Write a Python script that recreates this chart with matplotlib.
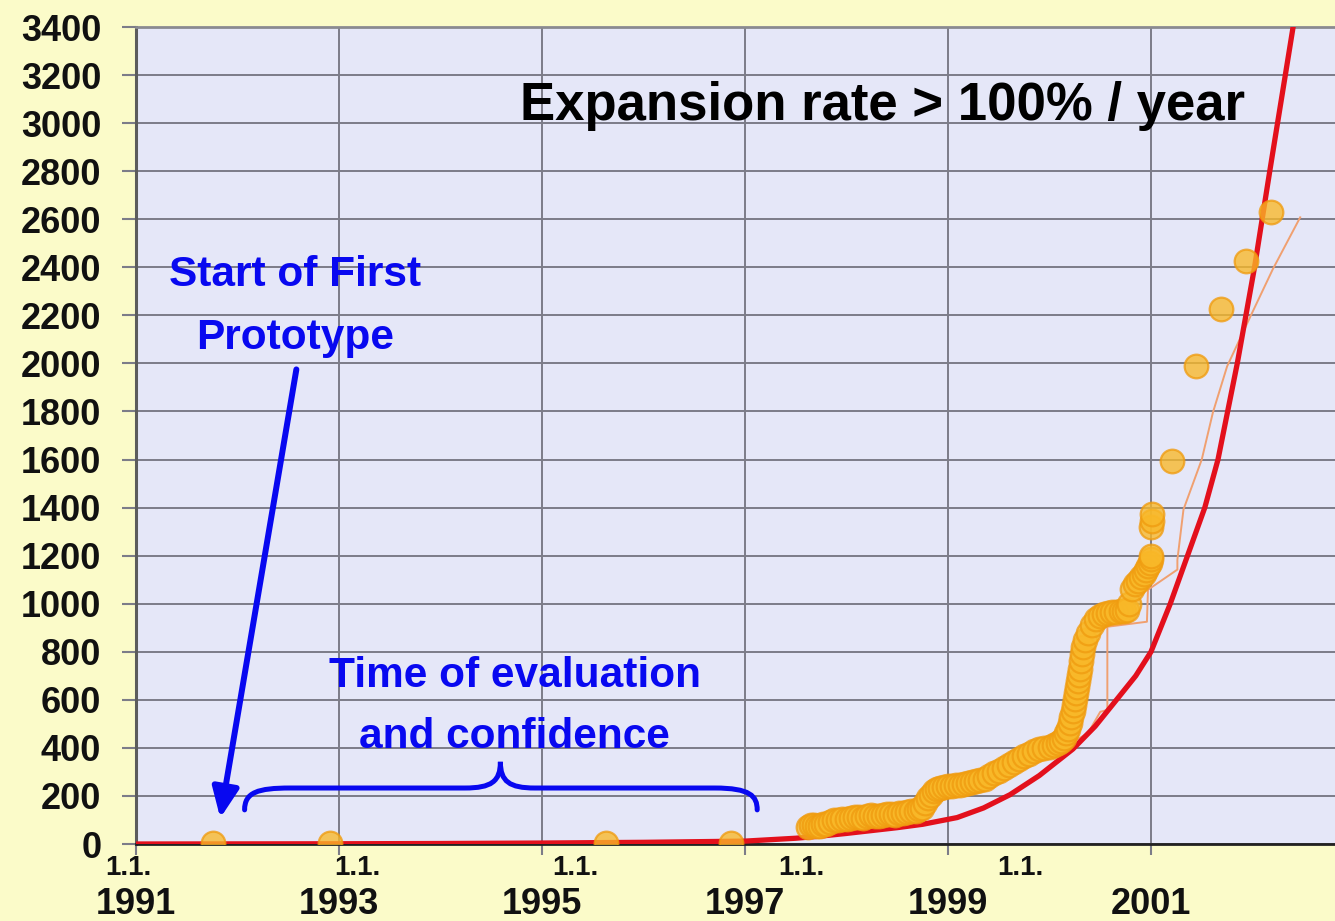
import matplotlib
matplotlib.use("Agg")
import matplotlib.pyplot as plt
from matplotlib.path import Path
from matplotlib.patches import PathPatch

# ---------------- data ----------------
year_ticks = [1991, 1993, 1995, 1997, 1999, 2001]
year_labels = ["1991", "1993", "1995", "1997", "1999", "2001"]
y_ticks = list(range(0, 3401, 200))

# measured points (orange circles)
dot_years = [1991.76, 1992.91, 1995.63, 1996.86,
             1997.62, 1997.65, 1997.68, 1997.71, 1997.74, 1997.77, 1997.80, 1997.84,
             1997.88, 1997.92, 1997.96, 1998.00, 1998.04, 1998.08, 1998.12, 1998.16,
             1998.20, 1998.24, 1998.28, 1998.32, 1998.36, 1998.40, 1998.44, 1998.48,
             1998.52, 1998.56, 1998.60, 1998.64, 1998.68, 1998.71, 1998.74, 1998.77,
             1998.80, 1998.83, 1998.86, 1998.89, 1998.92, 1998.96, 1999.00, 1999.04,
             1999.08, 1999.12, 1999.16, 1999.20, 1999.24, 1999.28, 1999.32, 1999.36,
             1999.40, 1999.45, 1999.50, 1999.55, 1999.60, 1999.65, 1999.70, 1999.75,
             1999.80, 1999.85, 1999.90, 1999.95, 2000.00, 2000.04, 2000.08, 2000.11,
             2000.14, 2000.16, 2000.18, 2000.20, 2000.21, 2000.23, 2000.24, 2000.25,
             2000.26, 2000.27, 2000.28, 2000.29, 2000.30, 2000.31, 2000.32, 2000.33,
             2000.35, 2000.38, 2000.42, 2000.46, 2000.50, 2000.54, 2000.58, 2000.62,
             2000.66, 2000.70, 2000.73, 2000.76, 2000.78, 2000.81, 2000.84, 2000.87,
             2000.90, 2000.93, 2000.95, 2000.97, 2000.99, 2001.00, 2001.00, 2001.00,
             2001.01, 2001.01, 2001.21, 2001.44, 2001.69, 2001.94, 2002.18]
dot_values = [3, 3, 3, 3,
              72, 78, 80, 74, 76, 84, 85, 92,
              100, 98, 105, 102, 108, 112, 112, 110,
              115, 120, 118, 116, 120, 125, 124, 122,
              128, 130, 132, 136, 138, 145, 150, 170,
              190, 205, 222, 230, 235, 238, 240, 243,
              245, 247, 250, 255, 258, 262, 265, 272,
              285, 295, 305, 318, 330, 342, 355, 365,
              375, 385, 395, 400, 405, 412, 420, 430,
              440, 460, 480, 505, 530, 555, 580, 605,
              630, 655, 680, 705, 730, 760, 790, 820,
              850, 880, 910, 935, 950, 958, 962, 965,
              966, 968, 970, 975, 1000, 1060, 1080, 1095,
              1110, 1125, 1140, 1155, 1170, 1185, 1320, 1200,
              1345, 1375, 1595, 1990, 2225, 2425, 2630]

# exponential trend (red)
red_years = [1991.0, 1992.0, 1993.0, 1994.0, 1995.0, 1996.0, 1997.0, 1997.5, 1997.75,
             1998.0, 1998.25, 1998.5, 1998.75, 1999.09, 1999.35, 1999.61, 1999.9,
             2000.23, 2000.45, 2000.66, 2000.85, 2001.0, 2001.19, 2001.36, 2001.53,
             2001.66, 2001.85, 2002.02, 2002.17, 2002.40, 2002.50]
red_values = [0, 0.5, 1, 2, 4, 7, 12, 24, 33,
              44, 56, 68, 82, 110, 150, 205, 285,
              395, 490, 600, 700, 800, 1000, 1200, 1400,
              1600, 2000, 2400, 2800, 3400, 3750]

# thin orange line
thin_years = [2000.10, 2000.38, 2000.50, 2000.57, 2000.57, 2000.96, 2000.97, 2001.26,
              2001.26, 2001.32, 2001.50, 2001.61, 2001.75, 2001.98, 2002.20, 2002.47]
thin_values = [392, 462, 550, 558, 904, 925, 1058, 1142,
               1183, 1392, 1600, 1796, 1988, 2196, 2392, 2608]

# small "1.1." date prefixes (positions as drawn in the original)
prefix_x = [1990.92, 1993.18, 1995.33, 1997.56, 1999.71]

# ---------------- style ----------------
FIG_BG = "#fbfbc9"
AX_BG = "#e5e7f8"
GRID = "#7c7c88"
BLUE = "#0808f0"
FONT = "Liberation Sans"

fig = plt.figure(figsize=(13.35, 9.21), dpi=100, facecolor=FIG_BG)
ax = fig.add_axes([136 / 1335, 1 - 844 / 921, 1 - 136 / 1335, (844 - 27) / 921])
ax.set_facecolor(AX_BG)

ax.set_xlim(1991, 1991 + (1335 - 136) / 101.5)
ax.set_ylim(0, 3400)

ax.set_xticks(year_ticks)
ax.set_xticklabels(year_labels)
ax.set_yticks(y_ticks)
ax.set_yticklabels([str(v) for v in y_ticks])

for lab in ax.get_xticklabels() + ax.get_yticklabels():
    lab.set_fontfamily(FONT)
    lab.set_fontweight("bold")
    lab.set_fontsize(26)
    lab.set_color("#111111")

ax.tick_params(axis="y", length=10, width=1.5, color=GRID, pad=15)
ax.tick_params(axis="x", length=8, width=1.5, color=GRID, pad=23)

ax.grid(True, color=GRID, lw=1.4, zorder=0)
ax.set_axisbelow(True)

ax.spines["right"].set_visible(False)
ax.spines["left"].set_color("#5c5c5c")
ax.spines["left"].set_linewidth(2.2)
ax.spines["top"].set_color("#8a8a90")
ax.spines["top"].set_linewidth(2)
ax.spines["bottom"].set_color("#222222")
ax.spines["bottom"].set_linewidth(2)

# "1.1." prefixes above the years
for px in prefix_x:
    ax.annotate("1.1.", xy=(px, 0), xycoords=("data", "axes fraction"),
                xytext=(0, -17), textcoords="offset points",
                ha="center", va="center", fontsize=20, fontweight="bold",
                family=FONT, color="#111111", annotation_clip=False)

# series
ax.plot(thin_years, thin_values, color="#f0a070", lw=1.4, zorder=3)
ax.plot(red_years, red_values, color="#e3101c", lw=3.8, zorder=4,
        solid_capstyle="round")
ax.scatter(dot_years, dot_values, s=290, facecolor="#f9b828", edgecolor="#f09c10",
           linewidths=1.6, alpha=0.78, zorder=5)

# title text
ax.text(1994.78, 3012, "Expansion rate > 100% / year", family=FONT,
        fontweight="bold", fontsize=38, color="black", ha="left", va="baseline",
        zorder=6)

# blue annotations
for txt, xv, yv in [("Start of First", 1992.57, 2321), ("Prototype", 1992.57, 2062),
                    ("Time of evaluation", 1994.73, 654), ("and confidence", 1994.73, 400)]:
    ax.text(xv, yv, txt, family=FONT, fontweight="bold", fontsize=30.5, color=BLUE,
            ha="center", va="baseline", zorder=6)

ax.annotate("", xy=(1991.83, 108), xytext=(1992.58, 1975),
            arrowprops=dict(arrowstyle="-|>,head_length=0.9,head_width=0.4",
                            mutation_scale=20, lw=4.3, color=BLUE,
                            shrinkA=0, shrinkB=0), zorder=6)

verts = [(1992.07, 142),
         (1992.07, 215), (1992.20, 233), (1992.52, 233),
         (1994.24, 233),
         (1994.50, 233), (1994.59, 260), (1994.59, 342),
         (1994.59, 260), (1994.68, 233), (1994.93, 233),
         (1996.70, 233),
         (1997.05, 233), (1997.12, 200), (1997.12, 142)]
codes = [Path.MOVETO,
         Path.CURVE4, Path.CURVE4, Path.CURVE4,
         Path.LINETO,
         Path.CURVE4, Path.CURVE4, Path.CURVE4,
         Path.CURVE4, Path.CURVE4, Path.CURVE4,
         Path.LINETO,
         Path.CURVE4, Path.CURVE4, Path.CURVE4]
ax.add_patch(PathPatch(Path(verts, codes), fill=False, edgecolor=BLUE, lw=3.6,
                       capstyle="round", zorder=6))

fig.savefig("out.png", dpi=100, facecolor=FIG_BG)
